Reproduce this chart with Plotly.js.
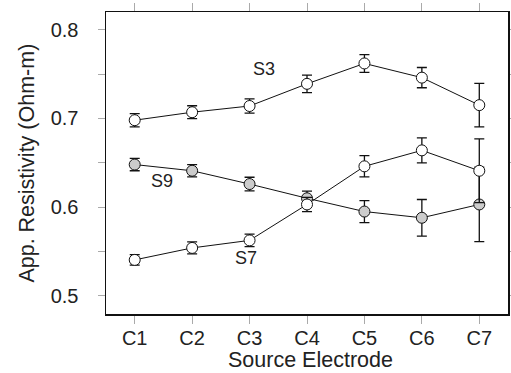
<!DOCTYPE html>
<html>
<head>
<meta charset="utf-8">
<script src="https://cdn.plot.ly/plotly-3.0.1.min.js"></script>
<style>html,body{margin:0;padding:0;background:#fff;}#chart{width:511px;height:373px;}</style>
</head>
<body>
<div id="chart"></div>
<script>
const categories = ["C1", "C2", "C3", "C4", "C5", "C6", "C7"];
const s3Values = [0.698, 0.707, 0.714, 0.739, 0.762, 0.746, 0.715];
const s3Errors = [0.0075, 0.0073, 0.008, 0.0098, 0.010, 0.0114, 0.0245];
const s9Values = [0.648, 0.641, 0.626, 0.610, 0.595, 0.588, 0.603];
const s9Errors = [0.007, 0.007, 0.0077, 0.008, 0.0124, 0.0206, 0.042];
const s7Values = [0.5405, 0.554, 0.5625, 0.603, 0.646, 0.664, 0.641];
const s7Errors = [0.006, 0.0068, 0.007, 0.008, 0.012, 0.014, 0.036];
const yTickVals = [0.5, 0.6, 0.7, 0.8];
const yTickText = ["0.5", "0.6", "0.7", "0.8"];
const seriesLabels = [
  {text: "S3", x: 3.243, y: 0.7558},
  {text: "S9", x: 1.476, y: 0.6294},
  {text: "S7", x: 2.94, y: 0.5432}
];
const xTitle = "Source Electrode";
const yTitle = "App. Resistivity (Ohm-m)";

const xPos = categories.map((c, i) => i + 1);
const font = "Liberation Sans, Arial, sans-serif";

function series(name, vals, errs, fill) {
  return {
    type: "scatter", mode: "lines+markers", name: name,
    x: xPos, y: vals,
    line: {color: "#111", width: 1},
    marker: {symbol: "circle", size: 11, color: fill, line: {color: "#111", width: 1}},
    error_y: {type: "data", array: errs, visible: true, color: "#111", thickness: 1.3, width: 5},
    showlegend: false, cliponaxis: false
  };
}

const data = [
  series("S3", s3Values, s3Errors, "#ffffff"),
  series("S9", s9Values, s9Errors, "#cccccc"),
  series("S7", s7Values, s7Errors, "#ffffff")
];

const annotations = seriesLabels.map(l => ({
  text: l.text, x: l.x, y: l.y, xref: "x", yref: "y",
  showarrow: false, font: {size: 18, color: "#222", family: font}
}));
// axis titles placed as annotations for exact positioning
annotations.push({
  text: yTitle, xref: "paper", yref: "paper", x: -0.1975, y: 0.5,
  xanchor: "center", yanchor: "middle", textangle: -90, showarrow: false,
  font: {size: 21.5, color: "#222", family: font}
});
annotations.push({
  text: xTitle, xref: "paper", yref: "paper", x: 0.509, y: -0.1954,
  xanchor: "center", yanchor: "bottom", showarrow: false, borderpad: 0,
  font: {size: 21.5, color: "#222", family: font}
});

const layout = {
  width: 511, height: 373,
  margin: {l: 106, r: 3, t: 12, b: 59},
  paper_bgcolor: "#fff", plot_bgcolor: "#fff",
  font: {family: font, size: 20, color: "#222"},
  xaxis: {
    range: [0.5, 7.5], tickvals: xPos, ticktext: categories,
    showgrid: false, zeroline: false,
    showline: true, linecolor: "#111", linewidth: 1.5, mirror: "ticks",
    ticks: "outside", ticklen: 8, tickcolor: "#aaa", tickwidth: 1,
    ticklabelstandoff: -3,
    tickfont: {size: 20, color: "#222"}
  },
  yaxis: {
    range: [0.4795, 0.82], tickvals: yTickVals, ticktext: yTickText,
    showgrid: false, zeroline: false,
    showline: true, linecolor: "#111", linewidth: 1.5, mirror: "ticks",
    ticks: "outside", ticklen: 7, tickcolor: "#aaa", tickwidth: 1,
    ticklabelstandoff: 15,
    minor: {tickvals: [0.55, 0.65, 0.75], ticks: "outside", ticklen: 7, tickcolor: "#aaa", showgrid: false},
    tickfont: {size: 20, color: "#222"}
  },
  annotations: annotations
};

Plotly.newPlot("chart", data, layout, {displayModeBar: false, staticPlot: true});
</script>
</body>
</html>
